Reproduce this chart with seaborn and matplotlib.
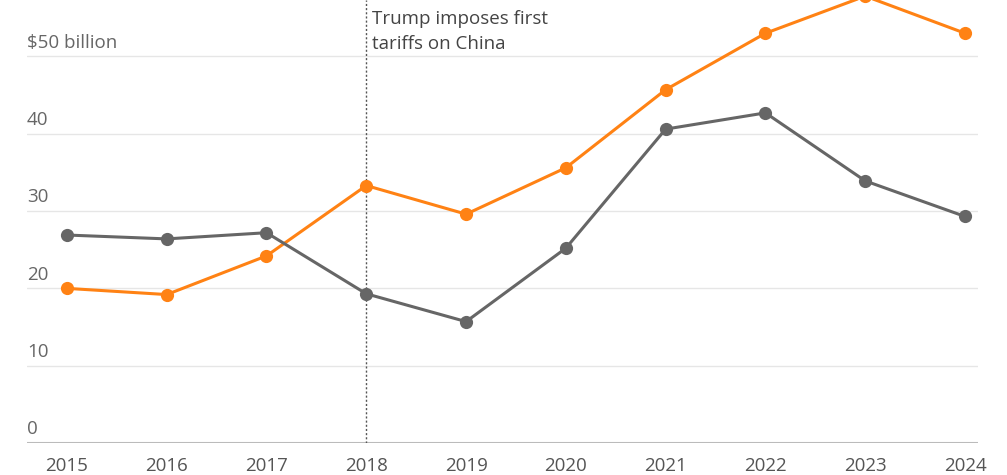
import matplotlib
matplotlib.use("Agg")
import matplotlib.pyplot as plt
import seaborn as sns
import pandas as pd

years = [2015, 2016, 2017, 2018, 2019, 2020, 2021, 2022, 2023, 2024]
orange_vals = [20.0, 19.2, 24.2, 33.3, 29.6, 35.6, 45.7, 53.0, 57.8, 53.0]
gray_vals = [26.9, 26.4, 27.2, 19.3, 15.7, 25.2, 40.6, 42.7, 33.9, 29.3]
series_names = ["Series A", "Series B"]
ytick_vals = [0, 10, 20, 30, 40, 50]
ytick_labels = ["0", "10", "20", "30", "40", "$50 billion"]
annot_year = 2018
annot_text = "Trump imposes first\ntariffs on China"

df = pd.DataFrame({
    "year": years * 2,
    "value": orange_vals + gray_vals,
    "series": [series_names[0]] * len(years) + [series_names[1]] * len(years),
})

sns.set_style("white")
plt.rcParams["font.family"] = ["Open Sans", "DejaVu Sans"]

fig = plt.figure(figsize=(10.07, 4.75), dpi=100)
ax = fig.add_axes([27 / 1007, 32 / 475, (978 - 27) / 1007, 443 / 475])

palette = {series_names[0]: "#ff8214", series_names[1]: "#666666"}
sns.lineplot(data=df, x="year", y="value", hue="series", palette=palette,
             marker="o", markersize=9.5, markeredgewidth=0, linewidth=2.2,
             legend=False, ax=ax, zorder=3)

ax.set_xlim(2014.6, 2024.13)
ax.set_ylim(0, 57.3)

for v, lab in zip(ytick_vals, ytick_labels):
    if v == 0:
        ax.axhline(v, color="#bbbbbb", linewidth=1.5, zorder=1)
    else:
        ax.axhline(v, color="#e6e6e6", linewidth=1, zorder=1)
    ax.text(2014.6, v + 0.6, lab, fontsize=13.5, color="#666666",
            ha="left", va="bottom")

ax.axvline(annot_year, color="#555555", linestyle=(0, (1.5, 1.5)), linewidth=1, zorder=2)
ax.text(annot_year + 0.06, 56.0, annot_text, fontsize=13.5, color="#444444",
        ha="left", va="top", linespacing=1.5)

ax.set_yticks([])
ax.set_xticks(years)
ax.set_xticklabels([str(y) for y in years], fontsize=13.5, color="#555555")
ax.tick_params(axis="x", length=4.3, width=1.2, color="#888888", pad=6, direction="out")
ax.set_xlabel("")
ax.set_ylabel("")
for s in ax.spines.values():
    s.set_visible(False)

fig.savefig("out.png", dpi=100)
